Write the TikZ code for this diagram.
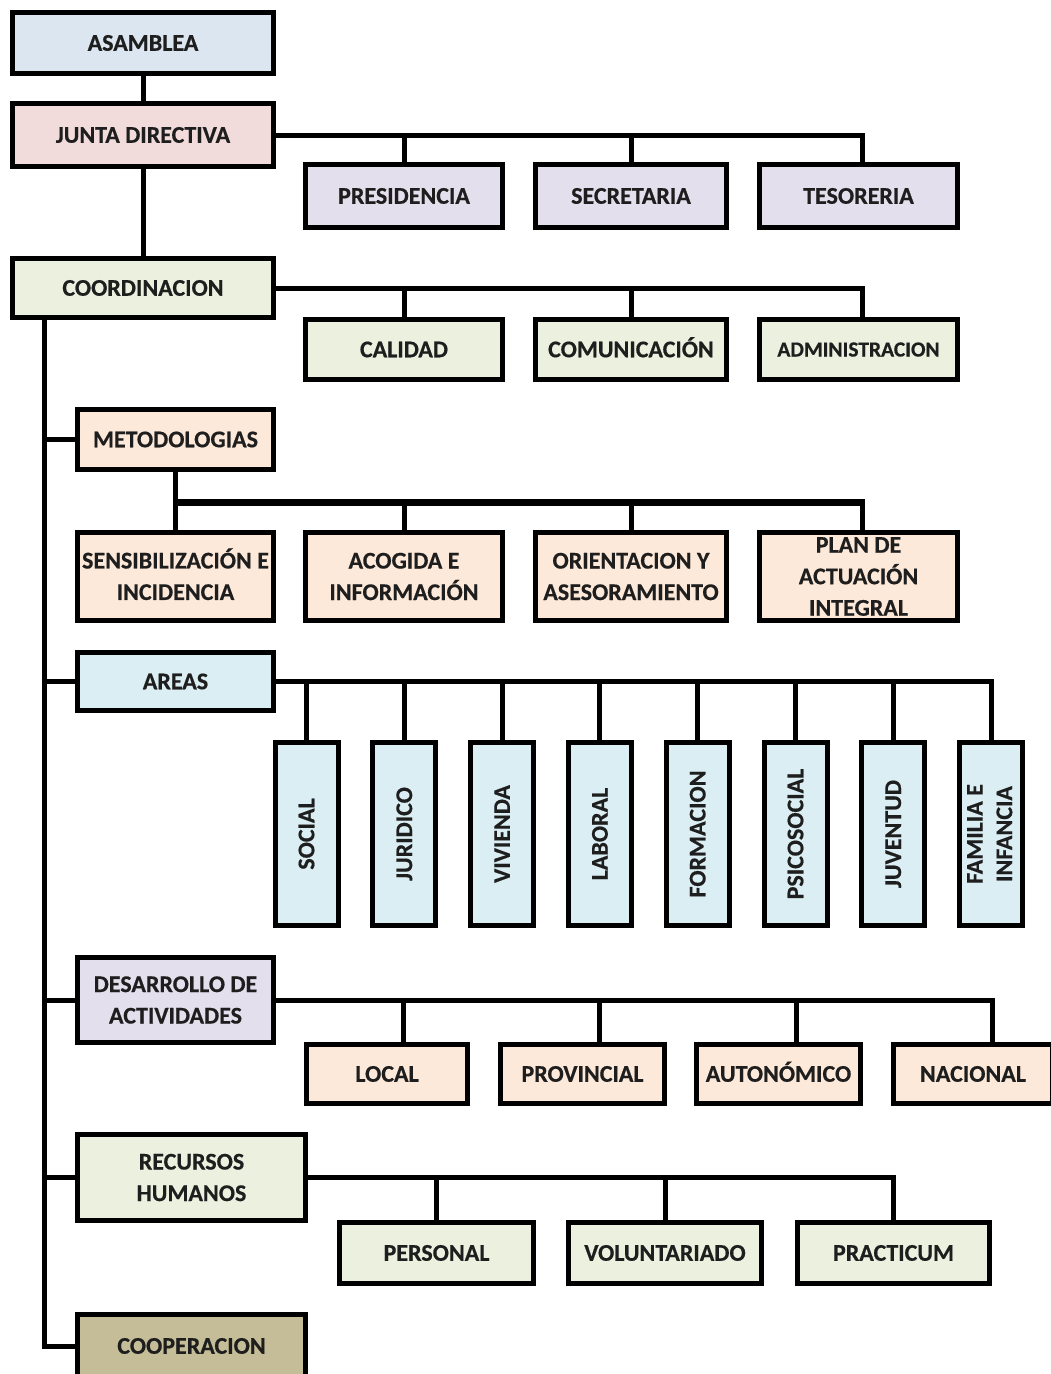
\documentclass[tikz,border=0pt]{standalone}
\usepackage{fontspec}
\setmainfont{Carlito}
\newfontfamily\heavy[FakeBold=0.5]{Carlito Bold}
\definecolor{txt}{HTML}{1E1E1E}
\definecolor{cAsam}{HTML}{DCE6F1}
\definecolor{cJunta}{HTML}{F2DCDB}
\definecolor{cLav}{HTML}{E4DFEC}
\definecolor{cGreen}{HTML}{EBF1DE}
\definecolor{cPeach}{HTML}{FDE9D9}
\definecolor{cBlue}{HTML}{DAEEF3}
\definecolor{cOlive}{HTML}{C4BD97}
\begin{document}
\begin{tikzpicture}[x=1pt,y=-1pt,
  box/.style={draw=black, line width=5pt, inner sep=0pt, align=center,
    font=\fontsize{24}{31.5}\selectfont\heavy, text=txt},
  one/.style={text height=15.5pt, text depth=0pt},
  sz/.style 2 args={minimum width=#1pt, minimum height=#2pt},
  link/.style={draw=black, line width=5pt},
  thicklink/.style={draw=black, line width=7pt}]
\useasboundingbox[fill=white] (0,0) rectangle (1051,1374);

% top levels
\node[box, one, fill=cAsam, sz={261}{61}] (asamblea) at (143,43) {ASAMBLEA};
\node[box, one, fill=cJunta, sz={261}{63}] (junta) at (143,135) {JUNTA DIRECTIVA};
\node[box, one, fill=cLav, sz={197}{63}] (presidencia) at (404,196) {PRESIDENCIA};
\node[box, one, fill=cLav, sz={191}{63}] (secretaria) at (631,196) {SECRETARIA};
\node[box, one, fill=cLav, sz={198}{63}] (tesoreria) at (858.5,196) {TESORERIA};
\node[box, one, fill=cGreen, sz={261}{59}] (coordinacion) at (143,288) {COORDINACION};
\node[box, one, fill=cGreen, sz={197}{60}] (calidad) at (404,349.5) {CALIDAD};
\node[box, one, fill=cGreen, sz={191}{60}] (comunicacion) at (631,349.5) {COMUNICACIÓN};
\node[box, fill=cGreen, sz={198}{60}, font=\fontsize{21.5}{28}\selectfont\heavy, text height=14pt, text depth=0pt] (administracion) at (858.5,349.5) {ADMINISTRACION};

% metodologias
\node[box, one, fill=cPeach, sz={196}{60}] (metodologias) at (175.5,439.5) {METODOLOGIAS};
\node[box, fill=cPeach, sz={196}{88}] (sens) at (175.5,576.5) {\smash{SENSIBILIZACIÓN E}\vphantom{E}\\INCIDENCIA};
\node[box, fill=cPeach, sz={197}{88}] (acogida) at (404,576.5) {ACOGIDA E\\INFORMACIÓN};
\node[box, fill=cPeach, sz={191}{88}] (orientacion) at (631,576.5) {ORIENTACION Y\\ASESORAMIENTO};
\node[box, fill=cPeach, sz={198}{88}] (plan) at (858.5,576.5) {PLAN DE\\ACTUACIÓN\\INTEGRAL};

% areas
\node[box, one, fill=cBlue, sz={196}{58}] (areas) at (175.5,681.5) {AREAS};
\node[box, fill=cBlue, sz={63}{183}] (social) at (306.5,834) {\rotatebox{90}{SOCIAL}};
\node[box, fill=cBlue, sz={63}{183}] (juridico) at (404.3,834) {\rotatebox{90}{JURIDICO}};
\node[box, fill=cBlue, sz={63}{183}] (vivienda) at (502.1,834) {\rotatebox{90}{VIVIENDA}};
\node[box, fill=cBlue, sz={63}{183}] (laboral) at (599.9,834) {\rotatebox{90}{LABORAL}};
\node[box, fill=cBlue, sz={63}{183}] (formacion) at (697.7,834) {\rotatebox{90}{FORMACION}};
\node[box, fill=cBlue, sz={63}{183}] (psicosocial) at (795.5,834) {\rotatebox{90}{PSICOSOCIAL}};
\node[box, fill=cBlue, sz={63}{183}] (juventud) at (893.3,834) {\rotatebox{90}{JUVENTUD}};
\node[box, fill=cBlue, sz={63}{183}] (familia) at (991.1,834) {\rotatebox{90}{\begin{tabular}{@{}c@{}}FAMILIA E\\[-2pt]INFANCIA\end{tabular}}};

% desarrollo
\node[box, fill=cLav, sz={196}{85}] (desarrollo) at (175.5,1000) {DESARROLLO DE\\ACTIVIDADES};
\node[box, one, fill=cPeach, sz={161}{59}] (local) at (387,1074) {LOCAL};
\node[box, one, fill=cPeach, sz={164}{59}] (provincial) at (582.5,1074) {PROVINCIAL};
\node[box, one, fill=cPeach, sz={164}{59}] (autonomico) at (778.5,1074) {AUTONÓMICO};
\node[box, one, fill=cPeach, sz={159}{59}] (nacional) at (973,1074) {NACIONAL};

% recursos
\node[box, fill=cGreen, sz={228}{86}] (recursos) at (191.5,1177.5) {RECURSOS\\HUMANOS};
\node[box, one, fill=cGreen, sz={194}{61}] (personal) at (436.5,1253) {PERSONAL};
\node[box, one, fill=cGreen, sz={193}{61}] (voluntariado) at (665,1253) {VOLUNTARIADO};
\node[box, one, fill=cGreen, sz={192}{61}] (practicum) at (893.5,1253) {PRACTICUM};

\node[box, one, fill=cOlive, sz={228}{63}] (cooperacion) at (191.5,1346) {COOPERACION};

% connectors
\draw[link] (asamblea) -- (junta);
\draw[link] (junta) -- (coordinacion);
\draw[link] (junta.east) -| ([xshift=3.5pt]tesoreria.north);
\draw[link] (presidencia.north) -- (presidencia.north |- junta.east);
\draw[link] (secretaria.north) -- (secretaria.north |- junta.east);
\draw[link] (coordinacion.east) -| ([xshift=3.5pt]administracion.north);
\draw[link] (calidad.north) -- (calidad.north |- coordinacion.east);
\draw[link] (comunicacion.north) -- (comunicacion.north |- coordinacion.east);

% trunk
\coordinate (trunk) at (44,320);
\draw[link] (trunk) |- (cooperacion.west);
\draw[link] (metodologias.west) -- (metodologias.west -| trunk);
\draw[link] (areas.west) -- (areas.west -| trunk);
\draw[link] (desarrollo.west) -- (desarrollo.west -| trunk);
\draw[link] (recursos.west) -- (recursos.west -| trunk);

% metodologias bar
\coordinate (mbar) at (175.5,502);
\draw[link] (metodologias.south) -- (sens.north);
\draw[thicklink] ([xshift=-2.5pt]sens.north |- mbar) -- ([xshift=6pt]plan.north |- mbar);
\draw[link] (acogida.north) -- (acogida.north |- mbar);
\draw[link] (orientacion.north) -- (orientacion.north |- mbar);
\draw[link] ([xshift=3.5pt]plan.north) -- ([xshift=3.5pt]plan.north |- mbar);

% areas bar
\draw[link] (areas.east) -| (familia.north);
\foreach \n in {social,juridico,vivienda,laboral,formacion,psicosocial,juventud}
  \draw[link] (\n.north) -- (\n.north |- areas.east);

% desarrollo bar
\draw[link] (desarrollo.east) -| ([xshift=19pt]nacional.north);
\draw[link] ([xshift=16pt]local.north) -- ([xshift=16pt]local.north |- desarrollo.east);
\draw[link] ([xshift=17pt]provincial.north) -- ([xshift=17pt]provincial.north |- desarrollo.east);
\draw[link] ([xshift=17.5pt]autonomico.north) -- ([xshift=17.5pt]autonomico.north |- desarrollo.east);

% recursos bar
\draw[link] (recursos.east) -| (practicum.north);
\draw[link] (personal.north) -- (personal.north |- recursos.east);
\draw[link] (voluntariado.north) -- (voluntariado.north |- recursos.east);
\end{tikzpicture}
\end{document}
